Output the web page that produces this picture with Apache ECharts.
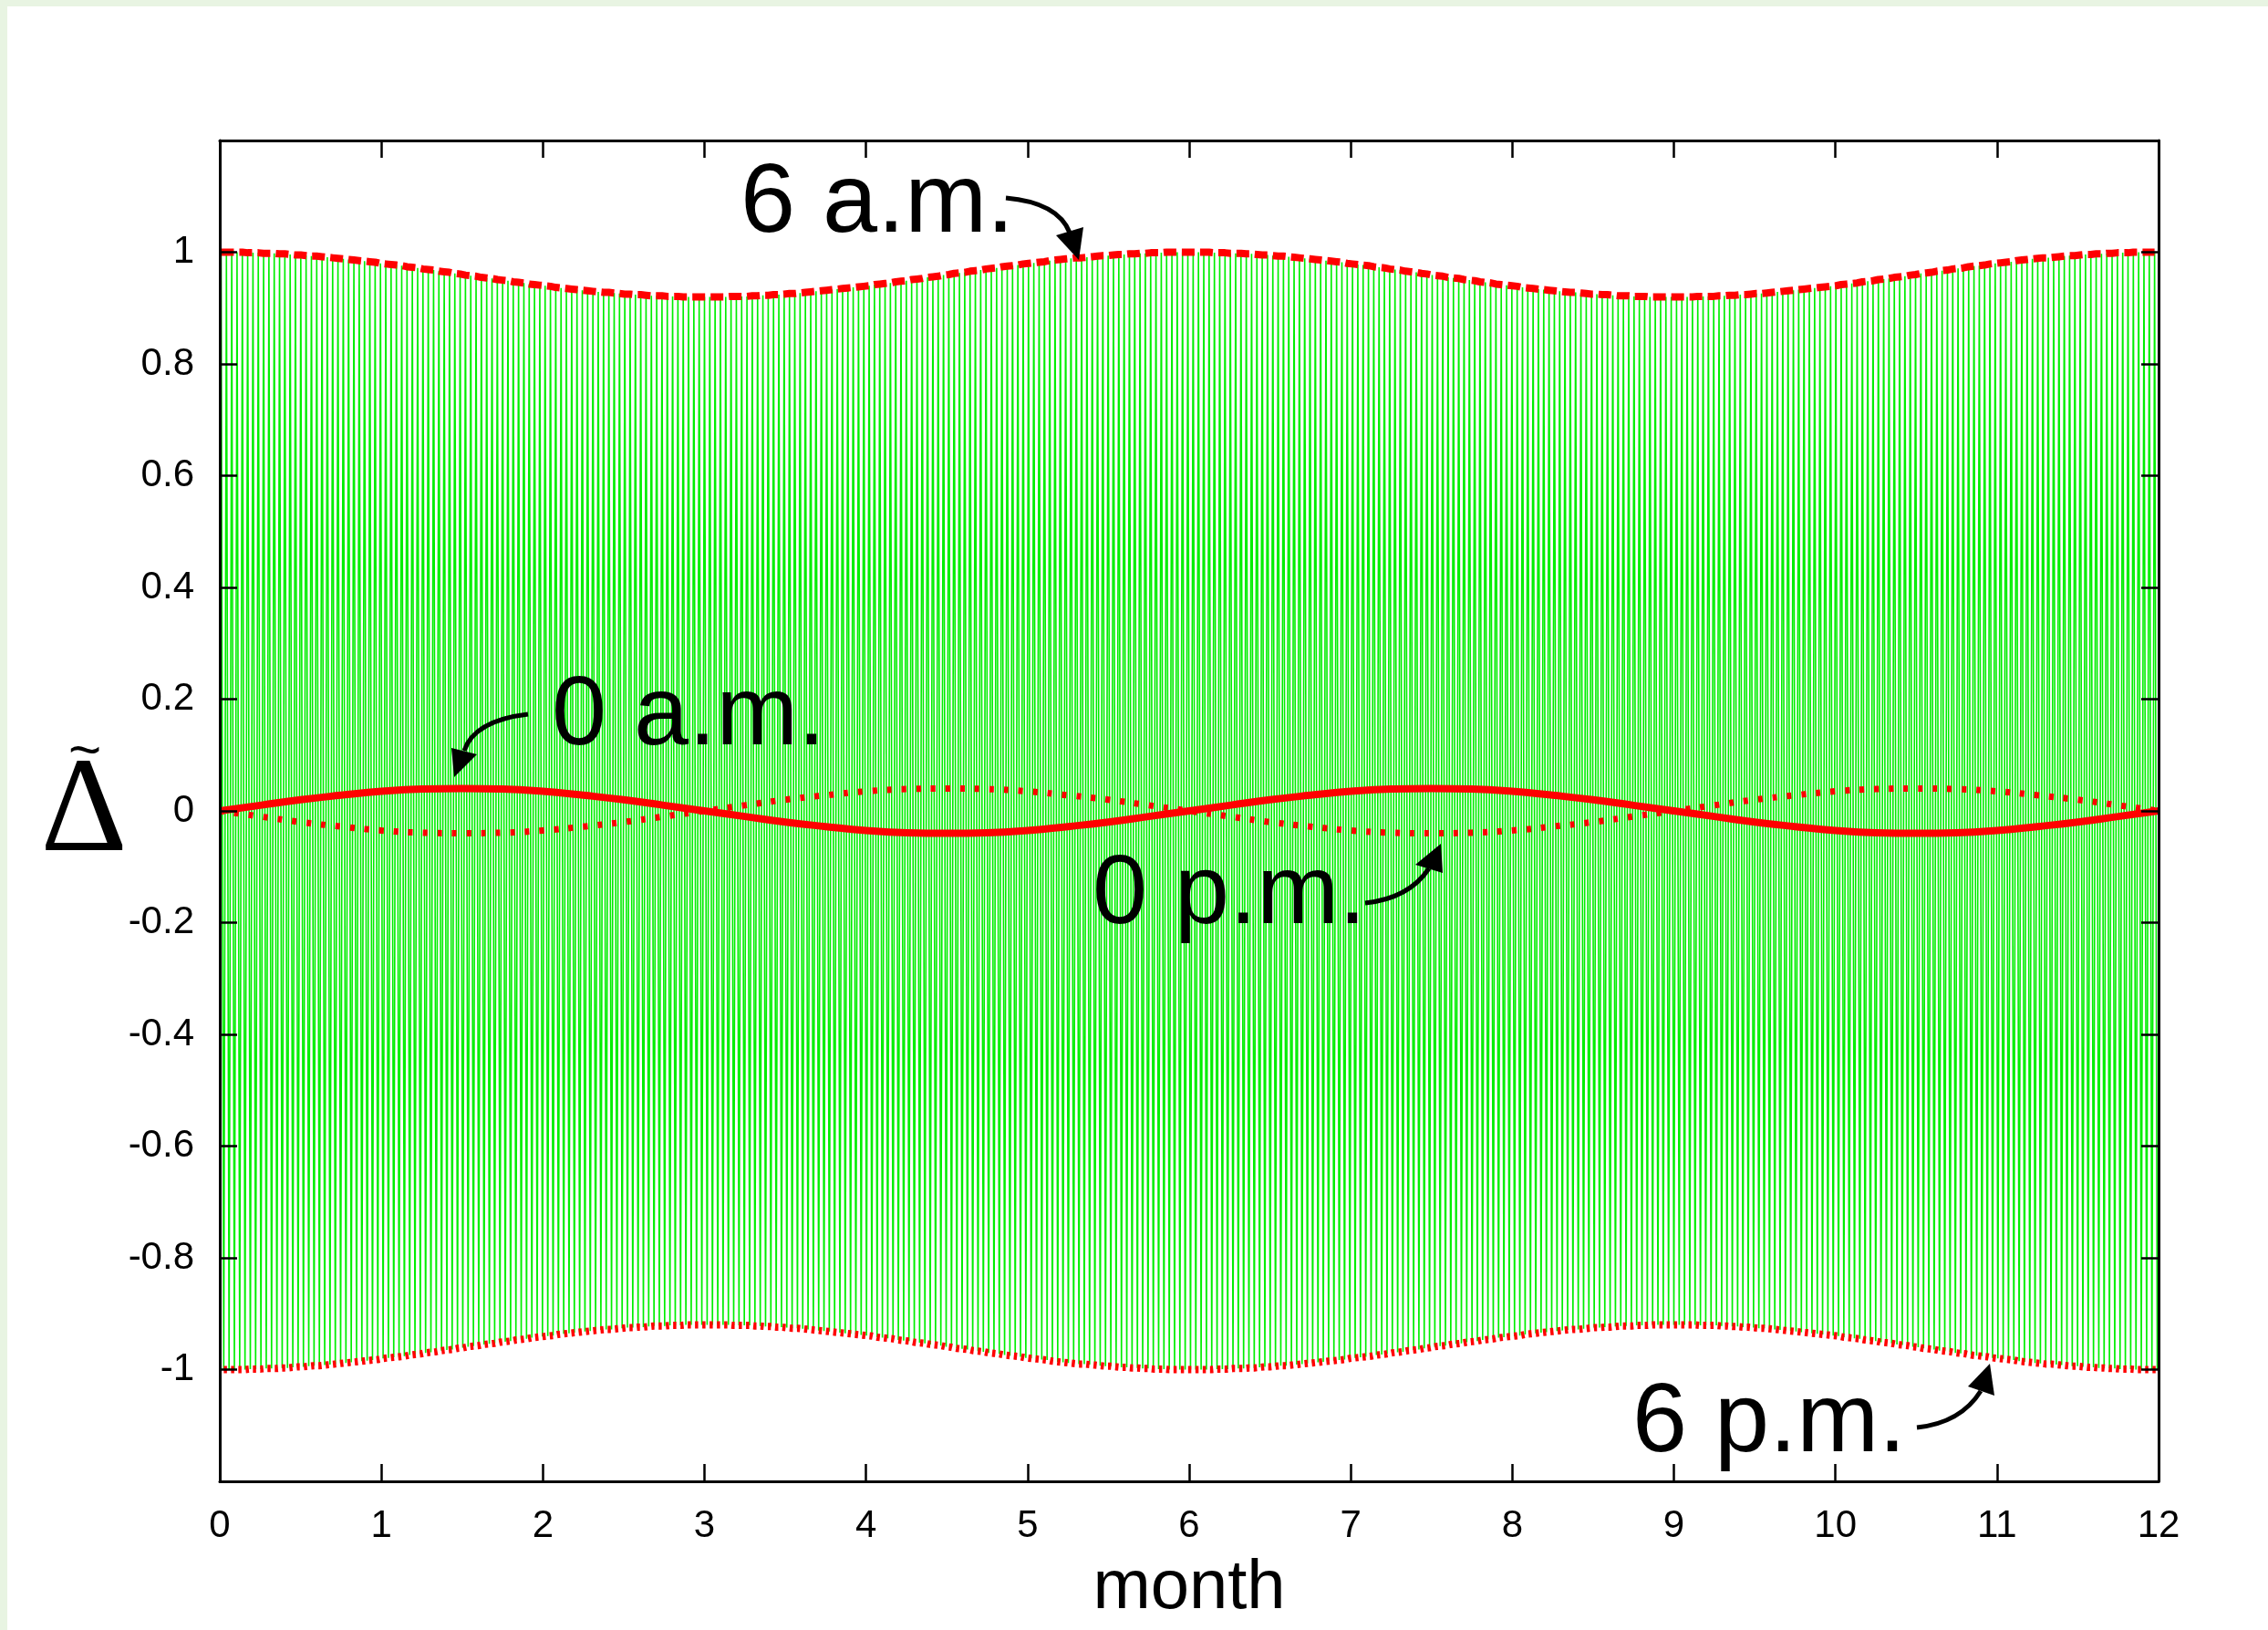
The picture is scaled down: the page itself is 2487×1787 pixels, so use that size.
<!DOCTYPE html>
<html>
<head>
<meta charset="utf-8">
<script src="https://cdn.jsdelivr.net/npm/echarts@6/dist/echarts.min.js"></script>
<style>
html,body{margin:0;padding:0;background:#fff;}
#c{width:2487px;height:1787px;}
</style>
</head>
<body>
<div id="c"></div>
<script>
// ---- data ----
// daily 6 a.m. value of Delta-tilde, one value per day (365 days)
const am6 = [
1.000,1.000,1.000,1.000,1.000,0.999,0.999,0.999,0.998,0.998,
0.998,0.997,0.997,0.996,0.995,0.995,0.994,0.993,0.993,0.992,
0.991,0.990,0.989,0.988,0.987,0.986,0.985,0.984,0.983,0.982,
0.980,0.979,0.978,0.977,0.976,0.974,0.973,0.972,0.970,0.969,
0.968,0.966,0.965,0.964,0.962,0.961,0.959,0.958,0.957,0.955,
0.954,0.953,0.951,0.950,0.949,0.947,0.946,0.945,0.943,0.942,
0.941,0.940,0.939,0.937,0.936,0.935,0.934,0.933,0.932,0.931,
0.930,0.929,0.928,0.928,0.927,0.926,0.925,0.925,0.924,0.924,
0.923,0.922,0.922,0.922,0.921,0.921,0.921,0.920,0.920,0.920,
0.920,0.920,0.920,0.920,0.920,0.920,0.921,0.921,0.921,0.921,
0.922,0.922,0.923,0.923,0.924,0.924,0.925,0.926,0.926,0.927,
0.928,0.929,0.930,0.931,0.932,0.933,0.934,0.935,0.936,0.937,
0.938,0.939,0.940,0.942,0.943,0.944,0.945,0.947,0.948,0.949,
0.951,0.952,0.953,0.955,0.956,0.957,0.959,0.960,0.962,0.963,
0.964,0.966,0.967,0.968,0.970,0.971,0.972,0.974,0.975,0.976,
0.977,0.979,0.980,0.981,0.982,0.983,0.985,0.986,0.987,0.988,
0.989,0.990,0.990,0.991,0.992,0.993,0.994,0.994,0.995,0.996,
0.996,0.997,0.997,0.998,0.998,0.999,0.999,0.999,1.000,1.000,
1.000,1.000,1.000,
1.000,1.000,1.000,1.000,0.999,0.999,0.999,0.998,0.998,
0.998,0.997,0.997,0.996,0.995,0.995,0.994,0.993,0.993,0.992,
0.991,0.990,0.989,0.988,0.987,0.986,0.985,0.984,0.983,0.982,
0.980,0.979,0.978,0.977,0.976,0.974,0.973,0.972,0.970,0.969,
0.968,0.966,0.965,0.964,0.962,0.961,0.959,0.958,0.957,0.955,
0.954,0.953,0.951,0.950,0.949,0.947,0.946,0.945,0.943,0.942,
0.941,0.940,0.939,0.937,0.936,0.935,0.934,0.933,0.932,0.931,
0.930,0.929,0.928,0.928,0.927,0.926,0.925,0.925,0.924,0.924,
0.923,0.922,0.922,0.922,0.921,0.921,0.921,0.920,0.920,0.920,
0.920,0.920,0.920,0.920,0.920,0.920,0.921,0.921,0.921,0.921,
0.922,0.922,0.923,0.923,0.924,0.924,0.925,0.926,0.926,0.927,
0.928,0.929,0.930,0.931,0.932,0.933,0.934,0.935,0.936,0.937,
0.938,0.939,0.940,0.942,0.943,0.944,0.945,0.947,0.948,0.949,
0.951,0.952,0.953,0.955,0.956,0.957,0.959,0.960,0.962,0.963,
0.964,0.966,0.967,0.968,0.970,0.971,0.972,0.974,0.975,0.976,
0.977,0.979,0.980,0.981,0.982,0.983,0.985,0.986,0.987,0.988,
0.989,0.990,0.990,0.991,0.992,0.993,0.994,0.994,0.995,0.996,
0.996,0.997,0.997,0.998,0.998,0.999,0.999,0.999,1.000,1.000,
1.000,1.000,1.000
];
// daily 6 p.m. value of Delta-tilde, one value per day (365 days)
const pm6 = [
-1.000,-1.000,-1.000,-1.000,-1.000,-0.999,-0.999,-0.999,-0.998,-0.998,
-0.998,-0.997,-0.997,-0.996,-0.995,-0.995,-0.994,-0.993,-0.993,-0.992,
-0.991,-0.990,-0.989,-0.988,-0.987,-0.986,-0.985,-0.984,-0.983,-0.982,
-0.980,-0.979,-0.978,-0.977,-0.976,-0.974,-0.973,-0.972,-0.970,-0.969,
-0.968,-0.966,-0.965,-0.964,-0.962,-0.961,-0.959,-0.958,-0.957,-0.955,
-0.954,-0.953,-0.951,-0.950,-0.949,-0.947,-0.946,-0.945,-0.943,-0.942,
-0.941,-0.940,-0.939,-0.937,-0.936,-0.935,-0.934,-0.933,-0.932,-0.931,
-0.930,-0.929,-0.928,-0.928,-0.927,-0.926,-0.925,-0.925,-0.924,-0.924,
-0.923,-0.922,-0.922,-0.922,-0.921,-0.921,-0.921,-0.920,-0.920,-0.920,
-0.920,-0.920,-0.920,-0.920,-0.920,-0.920,-0.921,-0.921,-0.921,-0.921,
-0.922,-0.922,-0.923,-0.923,-0.924,-0.924,-0.925,-0.926,-0.926,-0.927,
-0.928,-0.929,-0.930,-0.931,-0.932,-0.933,-0.934,-0.935,-0.936,-0.937,
-0.938,-0.939,-0.940,-0.942,-0.943,-0.944,-0.945,-0.947,-0.948,-0.949,
-0.951,-0.952,-0.953,-0.955,-0.956,-0.957,-0.959,-0.960,-0.962,-0.963,
-0.964,-0.966,-0.967,-0.968,-0.970,-0.971,-0.972,-0.974,-0.975,-0.976,
-0.977,-0.979,-0.980,-0.981,-0.982,-0.983,-0.985,-0.986,-0.987,-0.988,
-0.989,-0.990,-0.990,-0.991,-0.992,-0.993,-0.994,-0.994,-0.995,-0.996,
-0.996,-0.997,-0.997,-0.998,-0.998,-0.999,-0.999,-0.999,-1.000,-1.000,
-1.000,-1.000,-1.000,
-1.000,-1.000,-1.000,-1.000,-0.999,-0.999,-0.999,-0.998,-0.998,
-0.998,-0.997,-0.997,-0.996,-0.995,-0.995,-0.994,-0.993,-0.993,-0.992,
-0.991,-0.990,-0.989,-0.988,-0.987,-0.986,-0.985,-0.984,-0.983,-0.982,
-0.980,-0.979,-0.978,-0.977,-0.976,-0.974,-0.973,-0.972,-0.970,-0.969,
-0.968,-0.966,-0.965,-0.964,-0.962,-0.961,-0.959,-0.958,-0.957,-0.955,
-0.954,-0.953,-0.951,-0.950,-0.949,-0.947,-0.946,-0.945,-0.943,-0.942,
-0.941,-0.940,-0.939,-0.937,-0.936,-0.935,-0.934,-0.933,-0.932,-0.931,
-0.930,-0.929,-0.928,-0.928,-0.927,-0.926,-0.925,-0.925,-0.924,-0.924,
-0.923,-0.922,-0.922,-0.922,-0.921,-0.921,-0.921,-0.920,-0.920,-0.920,
-0.920,-0.920,-0.920,-0.920,-0.920,-0.920,-0.921,-0.921,-0.921,-0.921,
-0.922,-0.922,-0.923,-0.923,-0.924,-0.924,-0.925,-0.926,-0.926,-0.927,
-0.928,-0.929,-0.930,-0.931,-0.932,-0.933,-0.934,-0.935,-0.936,-0.937,
-0.938,-0.939,-0.940,-0.942,-0.943,-0.944,-0.945,-0.947,-0.948,-0.949,
-0.951,-0.952,-0.953,-0.955,-0.956,-0.957,-0.959,-0.960,-0.962,-0.963,
-0.964,-0.966,-0.967,-0.968,-0.970,-0.971,-0.972,-0.974,-0.975,-0.976,
-0.977,-0.979,-0.980,-0.981,-0.982,-0.983,-0.985,-0.986,-0.987,-0.988,
-0.989,-0.990,-0.990,-0.991,-0.992,-0.993,-0.994,-0.994,-0.995,-0.996,
-0.996,-0.997,-0.997,-0.998,-0.998,-0.999,-0.999,-0.999,-1.000,-1.000,
-1.000,-1.000,-1.000
];
// 0 a.m. and 0 p.m. values, read every quarter month (months 0 .. 12)
const midnightMonths = [0,0.25,0.5,0.75,1,1.25,1.5,1.75,2,2.25,2.5,2.75,3,3.25,3.5,3.75,4,4.25,4.5,4.75,5,5.25,5.5,5.75,6,6.25,6.5,6.75,7,7.25,7.5,7.75,8,8.25,8.5,8.75,9,9.25,9.5,9.75,10,10.25,10.5,10.75,11,11.25,11.5,11.75,12];
const am0 = [0,0.010,0.020,0.028,0.035,0.039,0.040,0.039,0.035,0.028,0.020,0.010,0,-0.010,-0.020,-0.028,-0.035,-0.039,-0.040,-0.039,-0.035,-0.028,-0.020,-0.010,0,0.010,0.020,0.028,0.035,0.039,0.040,0.039,0.035,0.028,0.020,0.010,0,-0.010,-0.020,-0.028,-0.035,-0.039,-0.040,-0.039,-0.035,-0.028,-0.020,-0.010,0];
const pm0 = [0,-0.010,-0.020,-0.028,-0.035,-0.039,-0.040,-0.039,-0.035,-0.028,-0.020,-0.010,0,0.010,0.020,0.028,0.035,0.039,0.040,0.039,0.035,0.028,0.020,0.010,0,-0.010,-0.020,-0.028,-0.035,-0.039,-0.040,-0.039,-0.035,-0.028,-0.020,-0.010,0,0.010,0.020,0.028,0.035,0.039,0.040,0.039,0.035,0.028,0.020,0.010,0];
const labels = {am6:'6 a.m.', am0:'0 a.m.', pm0:'0 p.m.', pm6:'6 p.m.'};
const xName = 'month';
const yName = 'Δ';

// ---- build series data (day index -> month coordinate) ----
const DAYS = 365, MONTHS = 12;
const dayToMonth = (d, hour) => (d + hour / 24) * MONTHS / DAYS;
const greenData = [], am6Data = [], pm6Data = [];
for (let d = 0; d < am6.length; d++) {
  greenData.push([dayToMonth(d, 6), am6[d]]);
  greenData.push([dayToMonth(d, 18), pm6[d]]);
  am6Data.push([dayToMonth(d, 6), am6[d]]);
  pm6Data.push([dayToMonth(d, 18), pm6[d]]);
}
const am0Data = midnightMonths.map((m, i) => [m, am0[i]]);
const pm0Data = midnightMonths.map((m, i) => [m, pm0[i]]);

const FONT = '"Liberation Sans", Arial, Helvetica, sans-serif';
const chart = echarts.init(document.getElementById('c'), null, {renderer: 'canvas'});

const axisCommon = {
  axisLine: {show: true, onZero: false, lineStyle: {color: '#000', width: 3}},
  axisTick: {show: true, inside: true, length: 19, lineStyle: {color: '#000', width: 2.5}},
  splitLine: {show: false},
  z: 10
};

function arrow(x0, y0, cx, cy, x1, y1, head) {
  return [
    {type: 'bezierCurve', z: 100, shape: {x1: x0, y1: y0, cpx1: cx, cpy1: cy, x2: x1, y2: y1},
     style: {stroke: '#000', lineWidth: 5, fill: null}},
    {type: 'polygon', z: 100, shape: {points: head}, style: {fill: '#000'}}
  ];
}
function label(text, x, baseline, size) {
  return {type: 'text', z: 100, style: {text: text, x: x, y: baseline - 0.33 * size,
    font: size + 'px ' + FONT, fill: '#000', align: 'left', verticalAlign: 'middle'}};
}

const option = {
  animation: false,
  backgroundColor: '#fff',
  grid: {left: 241, right: 120, top: 154, bottom: 163, containLabel: false},
  xAxis: [
    Object.assign({type: 'value', position: 'bottom', min: 0, max: 12, interval: 1,
      name: xName, nameLocation: 'middle', nameGap: 80,
      nameTextStyle: {fontSize: 76, fontFamily: FONT, color: '#000'},
      axisLabel: {fontSize: 42, fontFamily: FONT, color: '#000', margin: 28}}, axisCommon),
    Object.assign({type: 'value', position: 'top', min: 0, max: 12, interval: 1,
      axisLabel: {show: false}}, axisCommon)
  ],
  yAxis: [
    Object.assign({type: 'value', position: 'left', min: -1.2, max: 1.2, interval: 0.2,
      axisLabel: {fontSize: 42, fontFamily: FONT, color: '#000', margin: 28,
        formatter: v => (Math.abs(v) > 1.05 ? '' : String(Math.round(v * 10) / 10))}}, axisCommon),
    Object.assign({type: 'value', position: 'right', min: -1.2, max: 1.2, interval: 0.2,
      axisLabel: {show: false}}, axisCommon)
  ],
  series: [
    {type: 'line', data: greenData, showSymbol: false, symbol: 'none', z: 1,
     lineStyle: {color: '#00ee00', width: 1.6}, silent: true},
    {type: 'line', data: am6Data, showSymbol: false, symbol: 'none', z: 3,
     lineStyle: {color: '#ff0000', width: 8, type: [14, 6]}},
    {type: 'line', data: pm6Data, showSymbol: false, symbol: 'none', z: 3,
     lineStyle: {color: '#ff0000', width: 8, type: [3.5, 4.5]}},
    {type: 'line', data: pm0Data, smooth: true, showSymbol: false, symbol: 'none', z: 3,
     lineStyle: {color: '#ff0000', width: 7, type: [5, 11]}},
    {type: 'line', data: am0Data, smooth: true, showSymbol: false, symbol: 'none', z: 4,
     lineStyle: {color: '#ff0000', width: 8}}
  ],
  graphic: [
    {type: 'rect', z: 100, shape: {x: 0, y: 0, width: 8, height: 1787}, style: {fill: '#e8f4e2'}},
    {type: 'rect', z: 100, shape: {x: 0, y: 0, width: 2487, height: 7}, style: {fill: '#e8f4e2'}},
    {type: 'text', z: 100, style: {text: yName, x: 92, y: 893, font: '148px "Liberation Serif", "DejaVu Serif", serif',
      fill: '#000', align: 'center', verticalAlign: 'middle'}},
    {type: 'text', z: 100, style: {text: '~', x: 93, y: 826, font: '62px ' + FONT,
      fill: '#000', align: 'center', verticalAlign: 'middle'}},
    label(labels.am6, 812, 260, 108),
    label(labels.am0, 605, 822, 108),
    label(labels.pm0, 1198, 1018, 108),
    label(labels.pm6, 1790, 1597, 108)
  ]
    .concat(arrow(1103, 217, 1160, 222, 1173, 255, [[1158, 258], [1188, 249], [1183, 285]]))
    .concat(arrow(579, 783, 520, 790, 509, 823, [[495, 820], [523, 827], [498, 852]]))
    .concat(arrow(1497, 990, 1545, 985, 1567, 952, [[1552, 948], [1582, 957], [1580, 925]]))
    .concat(arrow(2102, 1565, 2150, 1560, 2172, 1525, [[2158, 1520], [2187, 1530], [2182, 1495]]))
};
chart.setOption(option);
</script>
</body>
</html>
